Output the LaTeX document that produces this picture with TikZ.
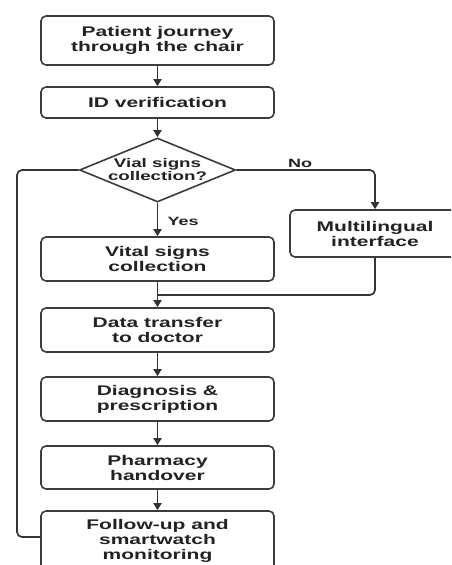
\documentclass[tikz,border=0pt]{standalone}
\usepackage{fontspec}
\setmainfont[FakeStretch=1.5]{Liberation Sans}
\usetikzlibrary{shapes.geometric,arrows.meta}
\definecolor{boxc}{HTML}{3C3C3C}
\definecolor{linec}{HTML}{333333}
\definecolor{txtc}{HTML}{222222}
\begin{document}
\begin{tikzpicture}[x=1pt,y=-1pt,
  box/.style={draw=boxc, line width=1.6pt, rounded corners=5pt, minimum width=233pt,
    align=center, font=\fontsize{14}{15}\selectfont\bfseries, text=txtc, inner sep=0pt},
  conn/.style={draw=linec, line width=1.7pt, rounded corners=5pt},
  arr/.style={conn, -{Triangle[length=7pt,width=8pt]}},
  lab/.style={font=\fontsize{12}{13}\selectfont\bfseries, text=txtc}]
\useasboundingbox (0,0) rectangle (451,565);
\fill[white] (0,0) rectangle (451,565);
\clip (0,0) rectangle (451,565);
\node[box, minimum height=49pt] (b1) at (157.5,40.5) {Patient journey\\through the chair};
\node[box, minimum height=31pt] (b2) at (157.5,102.5) {ID verification};
\node[diamond, draw=boxc, line width=1.6pt, minimum width=156pt, minimum height=64pt,
  inner sep=0pt, aspect=2.4, align=center, text=txtc,
  font=\fontsize{12.5}{13}\selectfont\bfseries] (d) at (157.5,170) {Vial signs\\collection?};
\node[box, minimum height=44pt] (b3) at (157.5,259) {Vital signs\\collection};
\node[box, minimum width=170pt, minimum height=47pt] (m) at (375,233.5) {Multilingual\\interface};
\node[box, minimum height=44pt] (b4) at (157.5,330) {Data transfer\\to doctor};
\node[box, minimum height=44pt] (b5) at (157.5,399) {Diagnosis \&\\prescription};
\node[box, minimum height=43pt] (b6) at (157.5,467.5) {Pharmacy\\handover};
\node[box, minimum height=60pt] (b7) at (157.5,541) {Follow-up and\\smartwatch\\monitoring};
\coordinate (lc) at (17,170);
\coordinate (j) at (157.5,295);
\draw[arr] (b1) -- (b2);
\draw[arr] (b2) -- (d);
\draw[arr] (d) -- node[lab, right, pos=0.55, xshift=6pt] {Yes} (b3);
\draw[arr] (d.east) -| node[lab, above, pos=0.23, yshift=-2pt] {No} (m.north);
\draw[conn] (d.west) -- (lc) |- ([yshift=4pt]b7.west);
\draw[conn] (m.south) |- (j);
\draw[arr] (b3) -- (b4);
\draw[arr] (b4) -- (b5);
\draw[arr] (b5) -- (b6);
\draw[arr] (b6) -- (b7);
\end{tikzpicture}
\end{document}
